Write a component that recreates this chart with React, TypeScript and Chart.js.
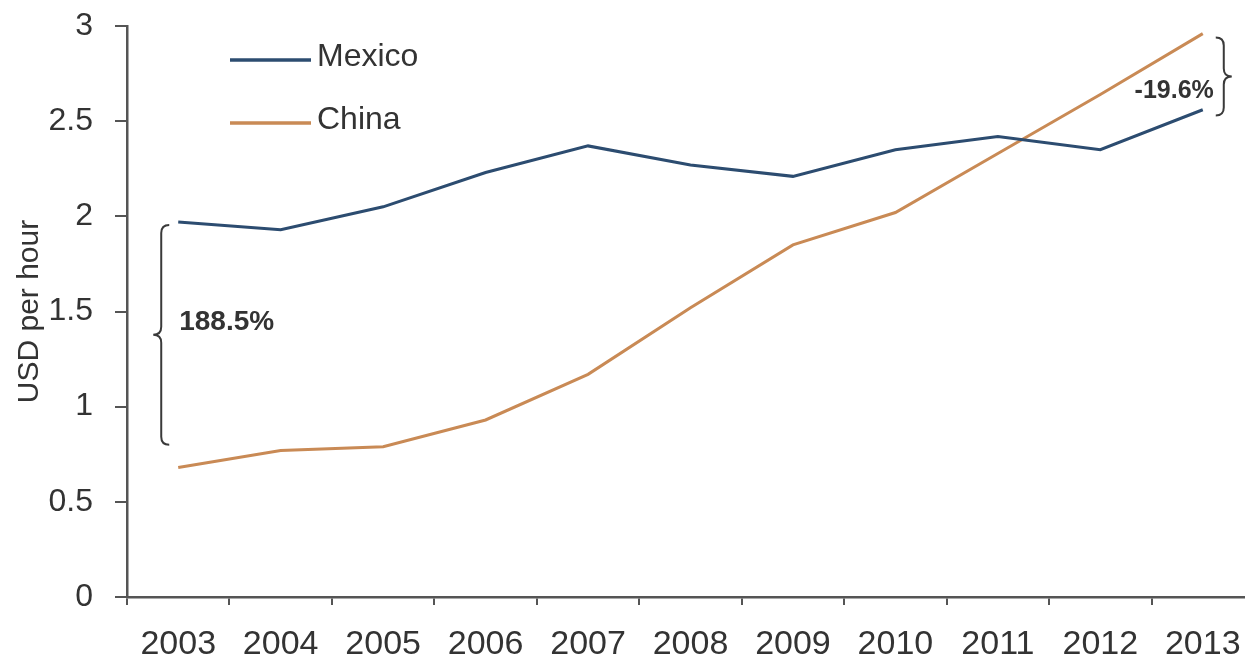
import React, { useEffect, useRef } from "react";
import { Chart, registerables } from "chart.js";

Chart.register(...registerables);

// ---- data ----
const years = ["2003", "2004", "2005", "2006", "2007", "2008", "2009", "2010", "2011", "2012", "2013"];
const mexico = [1.97, 1.93, 2.05, 2.23, 2.37, 2.27, 2.21, 2.35, 2.42, 2.35, 2.56];
const china = [0.68, 0.77, 0.79, 0.93, 1.17, 1.52, 1.85, 2.02, 2.33, 2.64, 2.96];
const seriesNames = ["Mexico", "China"];
const yAxisTitle = "USD per hour";
const gapLabels = ["188.5%", "-19.6%"];
const yMin = 0;
const yMax = 3;
const yStep = 0.5;

// ---- annotation anchors (in data units / category index) ----
const leftBrace = { index: 0, top: 1.955, bottom: 0.8, labelValue: 1.445 };
const rightBrace = { index: 10, top: 2.94, bottom: 2.53, labelValue: 2.66 };

const FONT = '"Liberation Sans", Arial, sans-serif';
const TEXT = "#333333";
const AXIS = "#555555";
const COLORS = ["#2c4c70", "#c98a55"];

function drawBrace(ctx: CanvasRenderingContext2D, xb: number, yTop: number, yBot: number, s: number, r: number) {
  const yMid = (yTop + yBot) / 2;
  ctx.beginPath();
  ctx.moveTo(xb - s * r, yTop);
  ctx.quadraticCurveTo(xb, yTop, xb, yTop + r);
  ctx.lineTo(xb, yMid - r);
  ctx.quadraticCurveTo(xb, yMid, xb + s * r, yMid);
  ctx.quadraticCurveTo(xb, yMid, xb, yMid + r);
  ctx.lineTo(xb, yBot - r);
  ctx.quadraticCurveTo(xb, yBot, xb - s * r, yBot);
  ctx.stroke();
}

const decorPlugin = {
  id: "decor",
  afterDraw(chart: any) {
    const ctx: CanvasRenderingContext2D = chart.ctx;
    const area = chart.chartArea;
    const xs = chart.scales.x;
    const ys = chart.scales.y;
    ctx.save();

    // y axis title
    ctx.save();
    ctx.translate(30, (area.top + area.bottom) / 2);
    ctx.rotate(-Math.PI / 2);
    ctx.font = `30px ${FONT}`;
    ctx.fillStyle = TEXT;
    ctx.textAlign = "center";
    ctx.textBaseline = "middle";
    ctx.fillText(yAxisTitle, 0, 0);
    ctx.restore();

    // legend
    const legendY = [60, 123];
    chart.data.datasets.forEach((ds: any, i: number) => {
      ctx.strokeStyle = ds.borderColor;
      ctx.lineWidth = 3.5;
      ctx.beginPath();
      ctx.moveTo(230, legendY[i]);
      ctx.lineTo(311, legendY[i]);
      ctx.stroke();
      ctx.font = `32px ${FONT}`;
      ctx.fillStyle = TEXT;
      ctx.textAlign = "left";
      ctx.textBaseline = "middle";
      ctx.fillText(ds.label, 317, legendY[i] - 3);
    });

    // braces
    ctx.strokeStyle = "#3a3a3a";
    ctx.lineWidth = 2;
    const lx = xs.getPixelForValue(leftBrace.index);
    drawBrace(ctx, lx - 17, ys.getPixelForValue(leftBrace.top), ys.getPixelForValue(leftBrace.bottom), -1, 8);
    const rx = xs.getPixelForValue(rightBrace.index);
    drawBrace(ctx, rx + 21, ys.getPixelForValue(rightBrace.top), ys.getPixelForValue(rightBrace.bottom), 1, 8);

    ctx.fillStyle = TEXT;
    ctx.textBaseline = "middle";
    ctx.font = `bold 28px ${FONT}`;
    ctx.textAlign = "left";
    ctx.fillText(gapLabels[0], lx + 1, ys.getPixelForValue(leftBrace.labelValue));
    ctx.font = `bold 25px ${FONT}`;
    ctx.textAlign = "right";
    ctx.fillText(gapLabels[1], rx + 11, ys.getPixelForValue(rightBrace.labelValue));

    ctx.restore();
  },
};

export default function App() {
  const ref = useRef<HTMLCanvasElement | null>(null);

  useEffect(() => {
    if (!ref.current) return;
    const chart = new Chart(ref.current, {
      type: "line",
      data: {
        labels: years,
        datasets: [
          {
            label: seriesNames[0],
            data: mexico,
            borderColor: COLORS[0],
            backgroundColor: COLORS[0],
            borderWidth: 3,
            pointRadius: 0,
            tension: 0,
          },
          {
            label: seriesNames[1],
            data: china,
            borderColor: COLORS[1],
            backgroundColor: COLORS[1],
            borderWidth: 3,
            pointRadius: 0,
            tension: 0,
          },
        ],
      },
      options: {
        responsive: false,
        animation: false,
        layout: { padding: { top: 26, right: 8, left: 0, bottom: 0 } },
        plugins: {
          legend: { display: false },
          tooltip: { enabled: false },
        },
        scales: {
          x: {
            type: "category",
            offset: true,
            grid: {
              offset: true,
              drawOnChartArea: false,
              drawTicks: true,
              tickLength: 8,
              color: AXIS,
              lineWidth: 2,
            },
            border: { display: true, color: AXIS, width: 2.5 },
            ticks: {
              font: { family: FONT, size: 34 },
              color: TEXT,
              padding: 19,
              maxRotation: 0,
              autoSkip: false,
            },
            afterFit: (s: any) => {
              s.height = 64;
              s.paddingLeft = 0;
              s.paddingRight = 0;
            },
          },
          y: {
            min: yMin,
            max: yMax,
            grid: {
              drawOnChartArea: false,
              drawTicks: true,
              tickLength: 12,
              color: AXIS,
              lineWidth: 2,
            },
            border: { display: true, color: AXIS, width: 2.5 },
            ticks: {
              stepSize: yStep,
              font: { family: FONT, size: 32 },
              color: TEXT,
              padding: 22,
              callback: (v: any) => String(Number(v)),
            },
            afterFit: (s: any) => {
              s.width = 127;
              s.paddingTop = 0;
              s.paddingBottom = 0;
            },
          },
        },
      },
      plugins: [decorPlugin],
    });
    return () => chart.destroy();
  }, []);

  return (
    <div
      style={{
        position: "fixed",
        left: 0,
        top: 0,
        width: 1245,
        height: 661,
        overflow: "hidden",
        background: "#ffffff",
      }}
    >
      <canvas ref={ref} width={1262} height={661} style={{ display: "block" }} />
    </div>
  );
}
